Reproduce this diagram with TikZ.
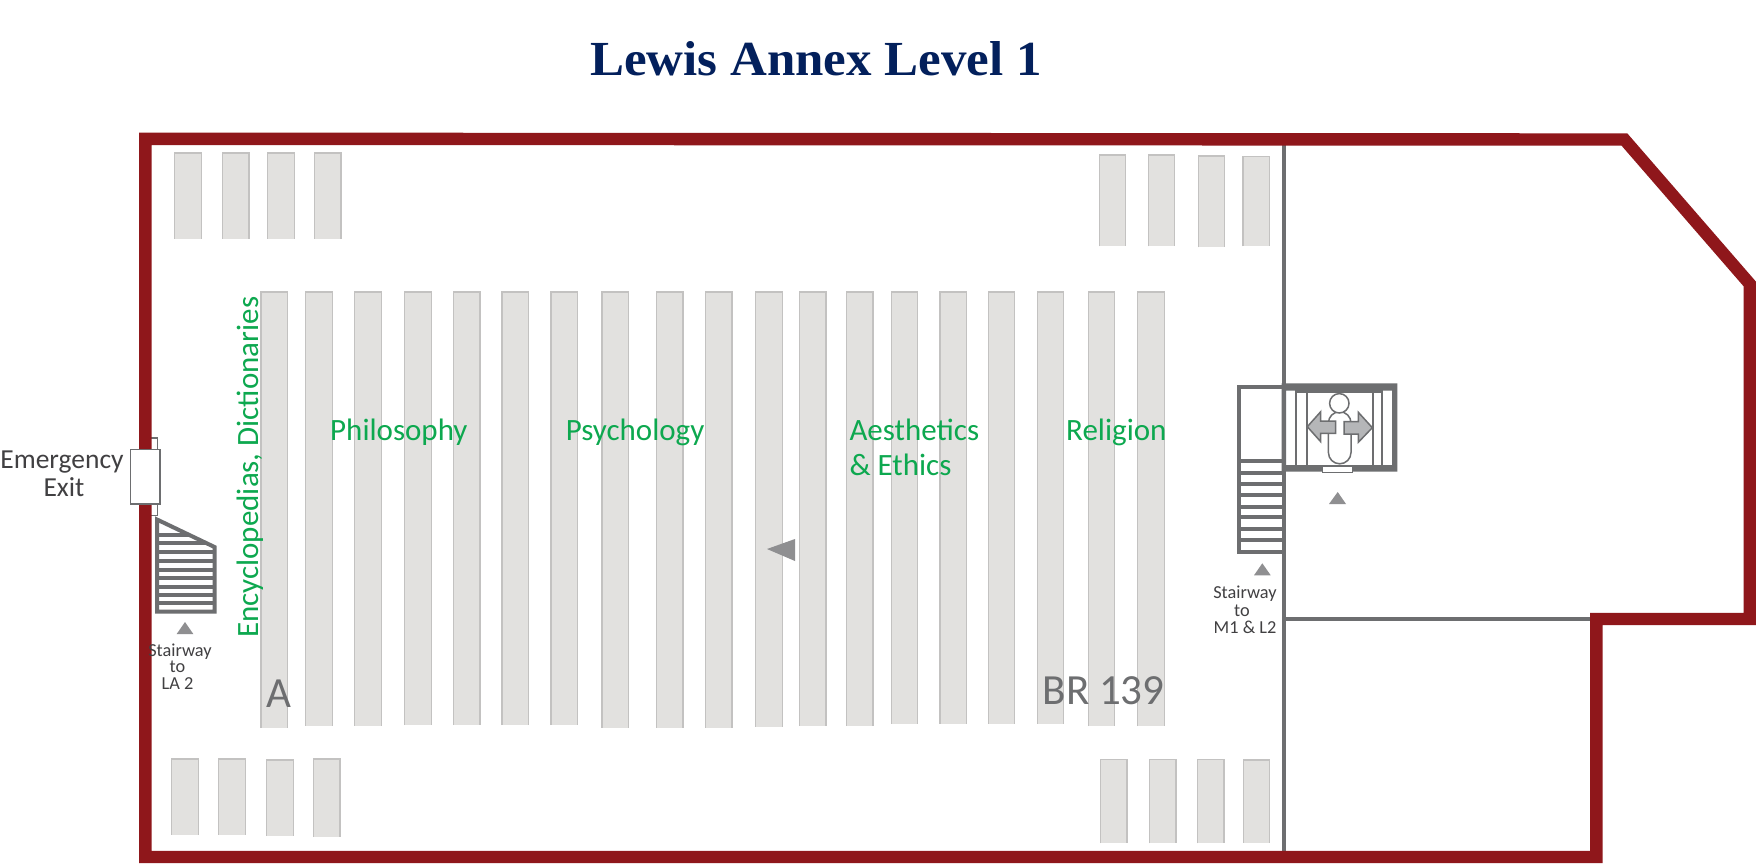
\documentclass[tikz,border=0pt]{standalone}
\usepackage{fontspec}
\setmainfont{Carlito}
\newfontfamily\titlefont{Liberation Serif}[BoldFont={Liberation Serif Bold}]
\definecolor{wall}{HTML}{8F171B}
\definecolor{wallgray}{HTML}{6D6E70}
\definecolor{shelffill}{HTML}{E2E1DF}
\definecolor{shelfline}{HTML}{C3C2C1}
\definecolor{markgray}{HTML}{8F8F91}
\definecolor{arrowfill}{HTML}{B5B6B8}
\definecolor{labelgreen}{HTML}{0DA84F}
\definecolor{textdark}{HTML}{414042}
\definecolor{navy}{HTML}{03205C}
\tikzset{
  wallline/.style={draw=wall,line width=12.4pt,miter limit=20,line join=miter},
  partition/.style={draw=wallgray,line width=4pt},
  stairline/.style={draw=wallgray,line width=4pt},
  shelfbox/.style={draw=shelfline,fill=shelffill,line width=1.3pt},
  upmark/.style={fill=markgray,draw=none},
  thinbox/.style={draw=wallgray,line width=1.4pt,fill=white},
  greenlabel/.style={text=labelgreen,inner sep=0pt,anchor=base west,font=\fontsize{31}{31}\selectfont},
  smalllabel/.style={text=textdark,inner sep=0pt,anchor=base,font=\fontsize{18.3}{18.3}\selectfont},
  exitlabel/.style={text=textdark,inner sep=0pt,anchor=base,font=\fontsize{27.5}{27.5}\selectfont},
  calllabel/.style={text=wallgray,inner sep=0pt,anchor=base west,font=\fontsize{43}{43}\selectfont},
}
\begin{document}
\begin{tikzpicture}[x=1pt,y=-1pt]
\useasboundingbox (0,0) rectangle (1756,864);
\fill[white] (0,0) rectangle (1756,864);

% title
\node[inner sep=0pt,anchor=base west,text=navy] (title) at (590,76)
  {\scalebox{1.04}[1]{\titlefont\bfseries\fontsize{49}{49}\selectfont Lewis Annex Level 1}};

% shelves: main range
\foreach \xa/\xb/\yb in {261/287.7/728,305.7/332.4/725.7,354.6/381.4/725.7,404.8/431.6/725,453.8/480/725,502/528.4/725,551/577.4/725,601.9/628.6/727.7,656.6/683/727.7,705.5/732/727.7,755.5/782.3/726.7,799.5/825.9/725.7,846.6/873/725.7,891.4/917.8/723.7,940/966.7/723.7,988.6/1014.6/723.7,1037.5/1063.6/723.7,1088.4/1114.5/726,1137.4/1164.2/726}
  \draw[shelfbox] (\xa,\yb) -- (\xa,292) -- (\xb,292) -- (\xb,\yb);
% shelves: top left, top right, bottom left, bottom right
\foreach \xa/\xb/\ya/\yb in {174.4/201.2/153/238.7,222.2/249/153/238.7,267.4/294.2/153/238.7,314.5/340.9/153/238.7,
  1099.5/1125.6/155/246.3,1148.5/1174.5/155/246.3,1198.3/1224.7/156/247.3,1243/1269.8/156.5/246.3,
  171.3/198.5/759/834.7,218.4/245.2/759/834.7,266.2/293.4/760/835.7,313.3/340.1/759/837,
  1100.3/1127/759.3/843.3,1149.3/1176/759.3/843.3,1197.5/1223.9/759.3/843.3,1243.4/1269.8/760/842.7}
  \draw[shelfbox] (\xa,\yb) -- (\xa,\ya) -- (\xb,\ya) -- (\xb,\yb);

% partition lines
\draw[partition] (1283.7,138) -- (1283.7,851);
\draw[partition] (1285,618.7) -- (1592,618.7);

% narrow door frame, behind the wall
\draw[draw=wallgray,line width=1.2pt,fill=white] (146,438) rectangle (157.8,515.5);

% outer wall
\draw[wallline] (145.4,857) -- (145.4,138.8) -- (1624.4,139.5) -- (1749.8,284) -- (1749.8,619) -- (1596.4,619) -- (1596.4,857) -- cycle;

% emergency door
\draw[thinbox] (130.3,449.5) rectangle (160,503.8);

% left stair
\draw[stairline,fill=white,line join=miter] (157,519.5) -- (157,611.5) -- (214.5,611.5) -- (214.5,547) -- cycle;
\foreach \ya/\xe in {535/189,543.3/206.6,552.3/214.5,561.3/214.5,570/214.5,578.3/214.5,586.7/214.5,595/214.5,603.3/214.5}
  \draw[stairline] (157,\ya) -- (\xe,\ya);

% right stair
\draw[stairline,fill=white] (1238.5,386.7) rectangle (1283.7,551.7);
\foreach \ya in {461,473.3,484,495,507,517,529.3,540.3}
  \draw[stairline] (1238.5,\ya) -- (1283.7,\ya);

% elevator
\fill[white] (1283,386) rectangle (1395,468);
\draw[draw=wallgray,line width=1.8pt] (1296,391) -- (1296,466) (1307,391) -- (1307,466) (1373,391) -- (1373,466) (1382,391) -- (1382,466);
\fill[wallgray] (1281.7,383.3) -- (1397.3,383.3) -- (1397.3,471.7) -- (1281.7,471.7) -- cycle
  (1286,390.7) -- (1286,465) -- (1392,465) -- (1392,390.7) -- cycle;
\fill[wallgray] (1295,390) rectangle (1383,392.5);
\draw[thinbox] (1322.7,466.2) rectangle (1352.3,472.5);
% person
\draw[thinbox,line width=1.5pt] (1328.4,423) arc[start angle=180,end angle=360,radius=11.3] -- (1351,452.5) arc[start angle=0,end angle=180,radius=11.3] -- cycle;
\draw[thinbox,line width=1.5pt] (1339.3,403.3) circle[radius=9.7];
% direction arrows
\draw[draw=wallgray,fill=arrowfill,line width=1.5pt,line join=miter] (1307.3,426.7) -- (1320.7,411.7) -- (1320.7,421) -- (1335.7,421) -- (1335.7,433.3) -- (1320.7,433.3) -- (1320.7,441.7) -- cycle;
\draw[draw=wallgray,fill=arrowfill,line width=1.5pt,line join=miter] (1372.3,427.7) -- (1358.3,412.3) -- (1358.3,421.7) -- (1344,421.7) -- (1344,434) -- (1358.3,434) -- (1358.3,442.3) -- cycle;

% marks
\fill[upmark] (176.7,634) -- (193.3,634) -- (185,622) -- cycle;
\fill[upmark] (1254,575.3) -- (1270.7,575.3) -- (1262.3,563.3) -- cycle;
\fill[upmark] (1329,504) -- (1346,504) -- (1337.7,492) -- cycle;
\fill[upmark] (795,539) -- (767,549) -- (795,561) -- cycle;

% labels
\node[exitlabel] (exitA) at (62,468) {Emergency};
\node[exitlabel] (exitB) at (64,496.7) {Exit};
\node[smalllabel] (sa) at (180,656) {Stairway};
\node[smalllabel] (sb) at (177.5,672.7) {to};
\node[smalllabel] (sc) at (177.5,689.3) {LA 2};
\node[smalllabel] (ma) at (1245,598) {Stairway};
\node[smalllabel] (mb) at (1242,616) {to};
\node[smalllabel] (mc) at (1245,633) {M1 \& L2};
\node[greenlabel,rotate=90] (ency) at (258.5,638) {Encyclopedias, Dictionaries};
\node[greenlabel] (phil) at (330,440) {Philosophy};
\node[greenlabel] (psyc) at (565.6,440.5) {Psychology};
\node[greenlabel] (aest) at (849.3,440) {Aesthetics};
\node[greenlabel] (ethi) at (849.3,475) {\& Ethics};
\node[greenlabel] (reli) at (1066,440) {Religion};
\node[calllabel] (cA) at (265.9,707.3) {A};
\node[calllabel] (cB) at (1042.5,704) {BR 139};
\end{tikzpicture}
\end{document}
